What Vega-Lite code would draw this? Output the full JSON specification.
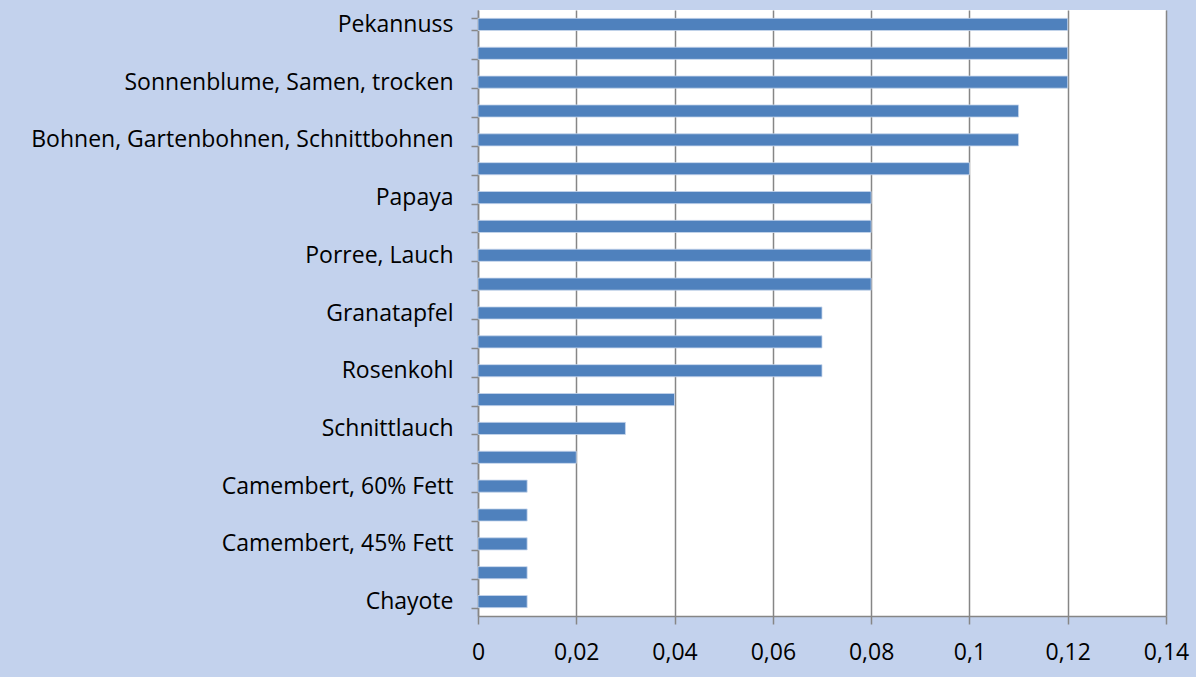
{
  "$schema": "https://vega.github.io/schema/vega-lite/v6.json",
  "width": 688,
  "height": 606,
  "autosize": {"type": "none"},
  "padding": {"left": 478, "top": 10, "right": 30, "bottom": 61},
  "background": "#c3d2ed",
  "config": {
    "view": {"fill": "white", "stroke": null},
    "font": "Open Sans"
  },
  "data": {
    "values": [
      {"name": "Pekannuss", "value": 0.12},
      {"name": "_2", "value": 0.12},
      {"name": "Sonnenblume, Samen, trocken", "value": 0.12},
      {"name": "_4", "value": 0.11},
      {"name": "Bohnen, Gartenbohnen, Schnittbohnen", "value": 0.11},
      {"name": "_6", "value": 0.10},
      {"name": "Papaya", "value": 0.08},
      {"name": "_8", "value": 0.08},
      {"name": "Porree, Lauch", "value": 0.08},
      {"name": "_10", "value": 0.08},
      {"name": "Granatapfel", "value": 0.07},
      {"name": "_12", "value": 0.07},
      {"name": "Rosenkohl", "value": 0.07},
      {"name": "_14", "value": 0.04},
      {"name": "Schnittlauch", "value": 0.03},
      {"name": "_16", "value": 0.02},
      {"name": "Camembert, 60% Fett", "value": 0.01},
      {"name": "_18", "value": 0.01},
      {"name": "Camembert, 45% Fett", "value": 0.01},
      {"name": "_20", "value": 0.01},
      {"name": "Chayote", "value": 0.01}
    ]
  },
  "mark": {"type": "bar", "color": "#4f81bd", "stroke": "#c6d6ec", "strokeWidth": 0.8},
  "encoding": {
    "y": {
      "field": "name",
      "type": "nominal",
      "sort": null,
      "scale": {"paddingInner": 0.58, "paddingOuter": 0.29},
      "axis": {
        "title": null,
        "tickBand": "extent",
        "labelExpr": "substring(datum.value,0,1)=='_' ? '' : datum.value",
        "labelFontSize": 23,
        "labelColor": "#000000",
        "labelPadding": 18,
        "labelLimit": 500,
        "tickSize": 7,
        "tickColor": "#868686",
        "domainColor": "#868686",
        "domainWidth": 1.5,
        "tickWidth": 1.5,
        "grid": false
      }
    },
    "x": {
      "field": "value",
      "type": "quantitative",
      "scale": {"domain": [0, 0.14], "nice": false},
      "axis": {
        "title": null,
        "values": [0, 0.02, 0.04, 0.06, 0.08, 0.1, 0.12, 0.14],
        "labelExpr": "replace(format(datum.value, '~g'), '.', ',')",
        "labelFontSize": 23,
        "labelColor": "#000000",
        "labelPadding": 17,
        "tickSize": 8,
        "tickColor": "#868686",
        "tickWidth": 1.5,
        "domainColor": "#868686",
        "domainWidth": 1.5,
        "grid": true,
        "gridColor": "#868686",
        "gridWidth": 1.5,
        "gridOpacity": 1,
        "labelFlush": false
      }
    }
  }
}
